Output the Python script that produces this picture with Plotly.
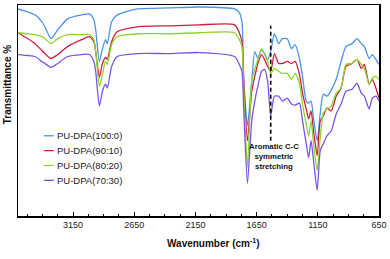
import plotly.graph_objects as go

# Wavenumber grid (cm-1)
wavenumber = [3600, 3520, 3460, 3405, 3380, 3330, 3275, 3195, 3080, 3015, 2980, 2965,
              2935, 2910, 2885, 2870, 2835, 2790, 2625, 2365, 2120, 1830, 1795, 1770,
              1755, 1725, 1690, 1665, 1640, 1610, 1585, 1560, 1535, 1505, 1470, 1440,
              1400, 1365, 1335, 1300, 1275, 1245, 1225, 1205, 1185, 1155, 1130, 1105,
              1075, 1040, 1000, 960, 920, 870, 830, 795, 770, 730, 705, 675, 650]

# Transmittance (arbitrary offset units)
t_100_0 = [209, 206, 203, 196, 191, 179, 188, 199, 203, 204, 198, 188,
           156, 169, 178, 174, 196, 203, 209, 210, 211, 209, 206, 196,
           136, 91, 136, 166, 159, 168, 164, 158, 166, 184, 174, 179,
           179, 169, 173, 159, 141, 116, 114, 116, 98, 76, 104, 123,
           121, 127, 138, 156, 171, 174, 179, 174, 171, 159, 163, 158, 153]
t_90_10 = [185, 179, 174, 167, 164, 159, 163, 171, 178, 181, 176, 166,
           140, 154, 160, 158, 176, 186, 191, 192, 193, 193, 186, 176,
           136, 76, 126, 141, 154, 163, 158, 151, 146, 164, 154, 154,
           156, 154, 156, 143, 124, 108, 98, 106, 86, 61, 96, 101,
           109, 106, 121, 129, 151, 154, 158, 149, 153, 133, 138, 129, 119]
t_80_20 = [185, 184, 183, 181, 179, 174, 179, 183, 183, 183, 178, 166,
           131, 143, 156, 153, 173, 181, 184, 184, 185, 185, 179, 171,
           126, 49, 136, 148, 158, 169, 163, 156, 144, 149, 146, 144,
           144, 138, 144, 134, 113, 93, 81, 96, 73, 46, 79, 104,
           108, 111, 124, 129, 153, 154, 158, 153, 149, 133, 139, 141, 138]
t_70_30 = [163, 162, 161, 156, 154, 150, 154, 161, 163, 163, 156, 146,
           111, 126, 133, 129, 151, 161, 164, 164, 165, 161, 154, 146,
           106, 33, 96, 116, 131, 146, 148, 136, 101, 121, 121, 116,
           119, 113, 112, 114, 96, 73, 59, 76, 56, 26, 66, 73,
           81, 86, 103, 113, 126, 128, 134, 124, 121, 108, 119, 121, 116]

series_names = ["PU-DPA(100:0)", "PU-DPA(90:10)", "PU-DPA(80:20)", "PU-DPA(70:30)"]
series_values = [t_100_0, t_90_10, t_80_20, t_70_30]
series_colors = ["#4a93ee", "#cc1f3e", "#8ed62a", "#7a55e3"]

tick_values = [3150, 2650, 2150, 1650, 1150, 650]
x_range = [3600, 650]
y_range = [0, 213]

marker_wavenumber = 1535
marker_span = [76, 192]
marker_label = "<b>Aromatic C-C<br>symmetric<br>stretching</b>"

FONT = "Arial, Liberation Sans, sans-serif"

fig = go.Figure()
for name, vals, col in zip(series_names, series_values, series_colors):
    fig.add_trace(go.Scatter(x=wavenumber, y=vals, mode="lines", name=name,
                             line=dict(color=col, width=1.3, shape="spline", smoothing=0.6),
                             showlegend=False))

# dashed marker line
fig.add_shape(type="line", xref="x", yref="y", x0=marker_wavenumber, x1=marker_wavenumber,
              y0=marker_span[0], y1=marker_span[1],
              line=dict(color="black", width=1.6, dash="4px,3px"))
fig.add_annotation(x=marker_wavenumber, y=77, xref="x", yref="y", text=marker_label,
                   showarrow=False, xanchor="center", yanchor="top", xshift=3,
                   font=dict(family=FONT, size=7.8, color="#111111"))

# custom legend
W, H = 363.0, 213.0
for i, (name, col) in enumerate(zip(series_names, series_colors)):
    py = 135 + 15 * i
    yp = (216 - py) / H
    fig.add_shape(type="line", xref="paper", yref="paper",
                  x0=(44 - 18) / W, x1=(54 - 18) / W, y0=yp, y1=yp,
                  line=dict(color=col, width=1.3))
    fig.add_annotation(xref="paper", yref="paper", x=(55 - 18) / W, y=yp, text=name,
                       showarrow=False, xanchor="left", yanchor="middle",
                       font=dict(family=FONT, size=9.5, color="#222222"))

# axis titles
fig.add_annotation(xref="paper", yref="paper", x=(215 - 18) / W, y=(216 - 243) / H,
                   text="<b>Wavenumber (cm<sup>-1</sup>)</b>", showarrow=False,
                   xanchor="center", yanchor="middle",
                   font=dict(family=FONT, size=10, color="#111111"))
fig.add_annotation(xref="paper", yref="paper", x=(7 - 18) / W, y=(216 - 83) / H,
                   text="<b>Transmittance %</b>", showarrow=False, textangle=-90,
                   xanchor="center", yanchor="middle",
                   font=dict(family=FONT, size=10, color="#111111"))

fig.update_layout(
    width=390, height=259,
    margin=dict(l=18, r=9, t=3, b=43),
    paper_bgcolor="white", plot_bgcolor="white",
    font=dict(family=FONT, size=9, color="#222222"),
    xaxis=dict(range=x_range, tickvals=tick_values, ticks="inside", ticklen=4,
               tickwidth=1, tickcolor="black", showgrid=False, zeroline=False,
               showline=True, linecolor="black", linewidth=1.5, mirror=True,
               minor=dict(tick0=650, dtick=125, ticks="inside", ticklen=2,
                          tickcolor="black", showgrid=False),
               tickfont=dict(family=FONT, size=9, color="#222222")),
    yaxis=dict(range=y_range, showticklabels=False, ticks="", showgrid=False,
               zeroline=False, showline=True, linecolor="black", linewidth=1.5,
               mirror=True),
)

fig.write_html("out.html",
               config={"displayModeBar": False, "staticPlot": True},
               post_script="document.body.style.margin='0';document.body.style.overflow='hidden';")
